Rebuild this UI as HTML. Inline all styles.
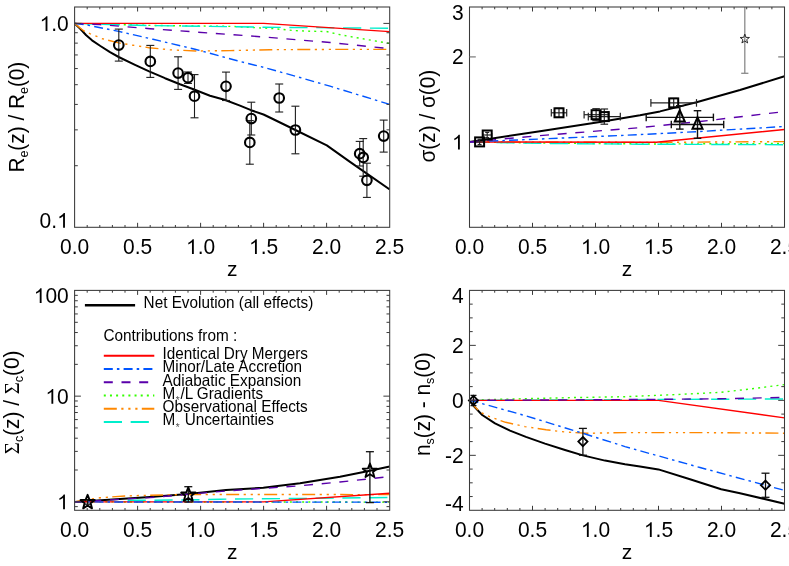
<!DOCTYPE html>
<html><head><meta charset="utf-8"><title>chart</title>
<style>html,body{margin:0;padding:0;background:#fff;overflow:hidden}svg{display:block;position:absolute;left:0;top:0;will-change:transform}</style></head>
<body>
<svg width="789" height="566" viewBox="0 0 789 566">
<rect width="100%" height="100%" fill="#fff"/>
<defs>
<clipPath id="c1"><rect x="74.60" y="7.00" width="315.10" height="220.30"/></clipPath>
<clipPath id="c2"><rect x="469.50" y="7.00" width="315.00" height="220.30"/></clipPath>
<clipPath id="c3"><rect x="74.60" y="290.40" width="315.10" height="219.90"/></clipPath>
<clipPath id="c4"><rect x="469.50" y="290.40" width="315.00" height="219.90"/></clipPath>
</defs>
<path d="M74.6 23.4 L80.0 28.6 L86.2 35.3 L92.0 40.3 L100.4 46.0 L110.0 52.2 L118.7 57.0 L135.0 64.8 L149.1 71.3 L165.0 78.2 L180.0 84.3 L194.1 89.5 L210.0 95.7 L224.5 99.8 L240.0 105.6 L251.0 110.2 L263.5 114.5 L270.8 118.0 L295.4 130.0 L326.8 145.4 L350.0 161.9 L389.7 189.4" fill="none" stroke="#000" stroke-width="2.00" clip-path="url(#c1)" stroke-linejoin="round"/>
<path d="M74.6 23.4 L150.0 25.4 L231.4 26.4 L256.1 27.7 L268.8 28.3 L280.8 29.3 L293.5 30.5 L306.2 31.1 L318.9 31.4 L326.5 31.5 L336.5 33.9 L342.7 35.2 L354.9 37.4 L389.7 43.5" fill="none" stroke="#33ff00" stroke-width="1.40" stroke-dasharray="2 4.15" clip-path="url(#c1)" stroke-linejoin="round"/>
<path d="M74.6 23.4 L80.0 28.0 L84.0 31.0 L90.3 33.8 L102.5 38.8 L118.7 42.9 L132.9 45.2 L149.1 47.7 L170.0 49.8 L195.6 51.0 L230.0 50.6 L270.0 49.7 L330.0 49.4 L389.7 49.4" fill="none" stroke="#ff8800" stroke-width="1.40" stroke-dasharray="13 4.5 2.2 4.8 2.2 4.8 2.2 4.3" clip-path="url(#c1)" stroke-linejoin="round"/>
<path d="M74.6 23.4 L100.0 24.2 L150.0 25.6 L226.0 26.6 L264.0 27.2 L330.0 27.8 L389.7 28.3" fill="none" stroke="#00eecc" stroke-width="1.40" stroke-dasharray="18.2 8.65" clip-path="url(#c1)" stroke-linejoin="round"/>
<path d="M74.6 23.4 L263.7 23.4 L389.7 31.6" fill="none" stroke="#ff0000" stroke-width="1.40" clip-path="url(#c1)" stroke-linejoin="round"/>
<path d="M74.6 23.4 L88.3 25.3 L118.7 31.4 L153.0 39.3 L195.0 49.2 L237.4 60.8 L263.5 67.3 L300.0 77.5 L330.0 86.2 L360.0 95.3 L389.7 104.4" fill="none" stroke="#0055ff" stroke-width="1.40" stroke-dasharray="9 4.1 2.5 4.2" clip-path="url(#c1)" stroke-linejoin="round"/>
<path d="M74.6 23.4 L100.0 24.6 L150.0 28.7 L226.0 34.2 L264.0 37.0 L330.0 42.5 L389.7 48.7" fill="none" stroke="#5a00aa" stroke-width="1.40" stroke-dasharray="9 8.7" clip-path="url(#c1)" stroke-linejoin="round"/>
<line x1="118.80" y1="29.10" x2="118.80" y2="61.10" stroke="#1c1c1c" stroke-width="1.10"/>
<line x1="114.80" y1="29.10" x2="122.80" y2="29.10" stroke="#1c1c1c" stroke-width="1.10"/>
<line x1="114.80" y1="61.10" x2="122.80" y2="61.10" stroke="#1c1c1c" stroke-width="1.10"/>
<line x1="150.30" y1="45.40" x2="150.30" y2="77.40" stroke="#1c1c1c" stroke-width="1.10"/>
<line x1="146.30" y1="45.40" x2="154.30" y2="45.40" stroke="#1c1c1c" stroke-width="1.10"/>
<line x1="146.30" y1="77.40" x2="154.30" y2="77.40" stroke="#1c1c1c" stroke-width="1.10"/>
<line x1="178.10" y1="56.80" x2="178.10" y2="89.40" stroke="#1c1c1c" stroke-width="1.10"/>
<line x1="174.10" y1="56.80" x2="182.10" y2="56.80" stroke="#1c1c1c" stroke-width="1.10"/>
<line x1="174.10" y1="89.40" x2="182.10" y2="89.40" stroke="#1c1c1c" stroke-width="1.10"/>
<line x1="188.00" y1="72.00" x2="188.00" y2="83.40" stroke="#1c1c1c" stroke-width="1.10"/>
<line x1="184.00" y1="72.00" x2="192.00" y2="72.00" stroke="#1c1c1c" stroke-width="1.10"/>
<line x1="184.00" y1="83.40" x2="192.00" y2="83.40" stroke="#1c1c1c" stroke-width="1.10"/>
<line x1="194.50" y1="74.60" x2="194.50" y2="117.80" stroke="#1c1c1c" stroke-width="1.10"/>
<line x1="190.50" y1="74.60" x2="198.50" y2="74.60" stroke="#1c1c1c" stroke-width="1.10"/>
<line x1="190.50" y1="117.80" x2="198.50" y2="117.80" stroke="#1c1c1c" stroke-width="1.10"/>
<line x1="226.00" y1="72.10" x2="226.00" y2="100.50" stroke="#1c1c1c" stroke-width="1.10"/>
<line x1="222.00" y1="72.10" x2="230.00" y2="72.10" stroke="#1c1c1c" stroke-width="1.10"/>
<line x1="222.00" y1="100.50" x2="230.00" y2="100.50" stroke="#1c1c1c" stroke-width="1.10"/>
<line x1="251.30" y1="102.20" x2="251.30" y2="135.00" stroke="#1c1c1c" stroke-width="1.10"/>
<line x1="247.30" y1="102.20" x2="255.30" y2="102.20" stroke="#1c1c1c" stroke-width="1.10"/>
<line x1="247.30" y1="135.00" x2="255.30" y2="135.00" stroke="#1c1c1c" stroke-width="1.10"/>
<line x1="249.80" y1="120.60" x2="249.80" y2="164.20" stroke="#1c1c1c" stroke-width="1.10"/>
<line x1="245.80" y1="120.60" x2="253.80" y2="120.60" stroke="#1c1c1c" stroke-width="1.10"/>
<line x1="245.80" y1="164.20" x2="253.80" y2="164.20" stroke="#1c1c1c" stroke-width="1.10"/>
<line x1="279.20" y1="84.00" x2="279.20" y2="112.00" stroke="#1c1c1c" stroke-width="1.10"/>
<line x1="275.20" y1="84.00" x2="283.20" y2="84.00" stroke="#1c1c1c" stroke-width="1.10"/>
<line x1="275.20" y1="112.00" x2="283.20" y2="112.00" stroke="#1c1c1c" stroke-width="1.10"/>
<line x1="295.40" y1="106.20" x2="295.40" y2="153.80" stroke="#1c1c1c" stroke-width="1.10"/>
<line x1="291.40" y1="106.20" x2="299.40" y2="106.20" stroke="#1c1c1c" stroke-width="1.10"/>
<line x1="291.40" y1="153.80" x2="299.40" y2="153.80" stroke="#1c1c1c" stroke-width="1.10"/>
<line x1="359.70" y1="141.40" x2="359.70" y2="166.00" stroke="#1c1c1c" stroke-width="1.10"/>
<line x1="355.70" y1="141.40" x2="363.70" y2="141.40" stroke="#1c1c1c" stroke-width="1.10"/>
<line x1="355.70" y1="166.00" x2="363.70" y2="166.00" stroke="#1c1c1c" stroke-width="1.10"/>
<line x1="363.20" y1="138.60" x2="363.20" y2="176.20" stroke="#1c1c1c" stroke-width="1.10"/>
<line x1="359.20" y1="138.60" x2="367.20" y2="138.60" stroke="#1c1c1c" stroke-width="1.10"/>
<line x1="359.20" y1="176.20" x2="367.20" y2="176.20" stroke="#1c1c1c" stroke-width="1.10"/>
<line x1="366.90" y1="163.20" x2="366.90" y2="197.40" stroke="#1c1c1c" stroke-width="1.10"/>
<line x1="362.90" y1="163.20" x2="370.90" y2="163.20" stroke="#1c1c1c" stroke-width="1.10"/>
<line x1="362.90" y1="197.40" x2="370.90" y2="197.40" stroke="#1c1c1c" stroke-width="1.10"/>
<line x1="383.70" y1="120.10" x2="383.70" y2="152.10" stroke="#1c1c1c" stroke-width="1.10"/>
<line x1="379.70" y1="120.10" x2="387.70" y2="120.10" stroke="#1c1c1c" stroke-width="1.10"/>
<line x1="379.70" y1="152.10" x2="387.70" y2="152.10" stroke="#1c1c1c" stroke-width="1.10"/>
<circle cx="118.8" cy="45.1" r="4.8" fill="none" stroke="#000" stroke-width="2.1"/>
<circle cx="150.3" cy="61.4" r="4.8" fill="none" stroke="#000" stroke-width="2.1"/>
<circle cx="178.1" cy="73.1" r="4.8" fill="none" stroke="#000" stroke-width="2.1"/>
<circle cx="188.0" cy="77.7" r="4.8" fill="none" stroke="#000" stroke-width="2.1"/>
<circle cx="194.5" cy="96.2" r="4.8" fill="none" stroke="#000" stroke-width="2.1"/>
<circle cx="226.0" cy="86.3" r="4.8" fill="none" stroke="#000" stroke-width="2.1"/>
<circle cx="251.3" cy="118.6" r="4.8" fill="none" stroke="#000" stroke-width="2.1"/>
<circle cx="249.8" cy="142.4" r="4.8" fill="none" stroke="#000" stroke-width="2.1"/>
<circle cx="279.2" cy="98.0" r="4.8" fill="none" stroke="#000" stroke-width="2.1"/>
<circle cx="295.4" cy="130.0" r="4.8" fill="none" stroke="#000" stroke-width="2.1"/>
<circle cx="359.7" cy="153.7" r="4.8" fill="none" stroke="#000" stroke-width="2.1"/>
<circle cx="363.2" cy="157.4" r="4.8" fill="none" stroke="#000" stroke-width="2.1"/>
<circle cx="366.9" cy="180.3" r="4.8" fill="none" stroke="#000" stroke-width="2.1"/>
<circle cx="383.7" cy="136.1" r="4.8" fill="none" stroke="#000" stroke-width="2.1"/>
<rect x="74.60" y="7.00" width="315.10" height="220.30" fill="none" stroke="#3a3a3a" stroke-width="1.05"/>
<line x1="137.60" y1="227.30" x2="137.60" y2="222.80" stroke="#3a3a3a" stroke-width="1.00"/>
<line x1="137.60" y1="7.00" x2="137.60" y2="11.50" stroke="#3a3a3a" stroke-width="1.00"/>
<line x1="200.60" y1="227.30" x2="200.60" y2="222.80" stroke="#3a3a3a" stroke-width="1.00"/>
<line x1="200.60" y1="7.00" x2="200.60" y2="11.50" stroke="#3a3a3a" stroke-width="1.00"/>
<line x1="263.60" y1="227.30" x2="263.60" y2="222.80" stroke="#3a3a3a" stroke-width="1.00"/>
<line x1="263.60" y1="7.00" x2="263.60" y2="11.50" stroke="#3a3a3a" stroke-width="1.00"/>
<line x1="326.60" y1="227.30" x2="326.60" y2="222.80" stroke="#3a3a3a" stroke-width="1.00"/>
<line x1="326.60" y1="7.00" x2="326.60" y2="11.50" stroke="#3a3a3a" stroke-width="1.00"/>
<line x1="87.20" y1="227.30" x2="87.20" y2="225.00" stroke="#3a3a3a" stroke-width="1.00"/>
<line x1="87.20" y1="7.00" x2="87.20" y2="9.30" stroke="#3a3a3a" stroke-width="1.00"/>
<line x1="99.80" y1="227.30" x2="99.80" y2="225.00" stroke="#3a3a3a" stroke-width="1.00"/>
<line x1="99.80" y1="7.00" x2="99.80" y2="9.30" stroke="#3a3a3a" stroke-width="1.00"/>
<line x1="112.40" y1="227.30" x2="112.40" y2="225.00" stroke="#3a3a3a" stroke-width="1.00"/>
<line x1="112.40" y1="7.00" x2="112.40" y2="9.30" stroke="#3a3a3a" stroke-width="1.00"/>
<line x1="125.00" y1="227.30" x2="125.00" y2="225.00" stroke="#3a3a3a" stroke-width="1.00"/>
<line x1="125.00" y1="7.00" x2="125.00" y2="9.30" stroke="#3a3a3a" stroke-width="1.00"/>
<line x1="150.20" y1="227.30" x2="150.20" y2="225.00" stroke="#3a3a3a" stroke-width="1.00"/>
<line x1="150.20" y1="7.00" x2="150.20" y2="9.30" stroke="#3a3a3a" stroke-width="1.00"/>
<line x1="162.80" y1="227.30" x2="162.80" y2="225.00" stroke="#3a3a3a" stroke-width="1.00"/>
<line x1="162.80" y1="7.00" x2="162.80" y2="9.30" stroke="#3a3a3a" stroke-width="1.00"/>
<line x1="175.40" y1="227.30" x2="175.40" y2="225.00" stroke="#3a3a3a" stroke-width="1.00"/>
<line x1="175.40" y1="7.00" x2="175.40" y2="9.30" stroke="#3a3a3a" stroke-width="1.00"/>
<line x1="188.00" y1="227.30" x2="188.00" y2="225.00" stroke="#3a3a3a" stroke-width="1.00"/>
<line x1="188.00" y1="7.00" x2="188.00" y2="9.30" stroke="#3a3a3a" stroke-width="1.00"/>
<line x1="213.20" y1="227.30" x2="213.20" y2="225.00" stroke="#3a3a3a" stroke-width="1.00"/>
<line x1="213.20" y1="7.00" x2="213.20" y2="9.30" stroke="#3a3a3a" stroke-width="1.00"/>
<line x1="225.80" y1="227.30" x2="225.80" y2="225.00" stroke="#3a3a3a" stroke-width="1.00"/>
<line x1="225.80" y1="7.00" x2="225.80" y2="9.30" stroke="#3a3a3a" stroke-width="1.00"/>
<line x1="238.40" y1="227.30" x2="238.40" y2="225.00" stroke="#3a3a3a" stroke-width="1.00"/>
<line x1="238.40" y1="7.00" x2="238.40" y2="9.30" stroke="#3a3a3a" stroke-width="1.00"/>
<line x1="251.00" y1="227.30" x2="251.00" y2="225.00" stroke="#3a3a3a" stroke-width="1.00"/>
<line x1="251.00" y1="7.00" x2="251.00" y2="9.30" stroke="#3a3a3a" stroke-width="1.00"/>
<line x1="276.20" y1="227.30" x2="276.20" y2="225.00" stroke="#3a3a3a" stroke-width="1.00"/>
<line x1="276.20" y1="7.00" x2="276.20" y2="9.30" stroke="#3a3a3a" stroke-width="1.00"/>
<line x1="288.80" y1="227.30" x2="288.80" y2="225.00" stroke="#3a3a3a" stroke-width="1.00"/>
<line x1="288.80" y1="7.00" x2="288.80" y2="9.30" stroke="#3a3a3a" stroke-width="1.00"/>
<line x1="301.40" y1="227.30" x2="301.40" y2="225.00" stroke="#3a3a3a" stroke-width="1.00"/>
<line x1="301.40" y1="7.00" x2="301.40" y2="9.30" stroke="#3a3a3a" stroke-width="1.00"/>
<line x1="314.00" y1="227.30" x2="314.00" y2="225.00" stroke="#3a3a3a" stroke-width="1.00"/>
<line x1="314.00" y1="7.00" x2="314.00" y2="9.30" stroke="#3a3a3a" stroke-width="1.00"/>
<line x1="339.20" y1="227.30" x2="339.20" y2="225.00" stroke="#3a3a3a" stroke-width="1.00"/>
<line x1="339.20" y1="7.00" x2="339.20" y2="9.30" stroke="#3a3a3a" stroke-width="1.00"/>
<line x1="351.80" y1="227.30" x2="351.80" y2="225.00" stroke="#3a3a3a" stroke-width="1.00"/>
<line x1="351.80" y1="7.00" x2="351.80" y2="9.30" stroke="#3a3a3a" stroke-width="1.00"/>
<line x1="364.40" y1="227.30" x2="364.40" y2="225.00" stroke="#3a3a3a" stroke-width="1.00"/>
<line x1="364.40" y1="7.00" x2="364.40" y2="9.30" stroke="#3a3a3a" stroke-width="1.00"/>
<line x1="377.00" y1="227.30" x2="377.00" y2="225.00" stroke="#3a3a3a" stroke-width="1.00"/>
<line x1="377.00" y1="7.00" x2="377.00" y2="9.30" stroke="#3a3a3a" stroke-width="1.00"/>
<line x1="74.60" y1="23.40" x2="80.90" y2="23.40" stroke="#3a3a3a" stroke-width="1.00"/>
<line x1="389.70" y1="23.40" x2="383.40" y2="23.40" stroke="#3a3a3a" stroke-width="1.00"/>
<line x1="74.60" y1="165.71" x2="77.80" y2="165.71" stroke="#3a3a3a" stroke-width="1.00"/>
<line x1="389.70" y1="165.71" x2="386.50" y2="165.71" stroke="#3a3a3a" stroke-width="1.00"/>
<line x1="74.60" y1="129.86" x2="77.80" y2="129.86" stroke="#3a3a3a" stroke-width="1.00"/>
<line x1="389.70" y1="129.86" x2="386.50" y2="129.86" stroke="#3a3a3a" stroke-width="1.00"/>
<line x1="74.60" y1="104.42" x2="77.80" y2="104.42" stroke="#3a3a3a" stroke-width="1.00"/>
<line x1="389.70" y1="104.42" x2="386.50" y2="104.42" stroke="#3a3a3a" stroke-width="1.00"/>
<line x1="74.60" y1="84.69" x2="77.80" y2="84.69" stroke="#3a3a3a" stroke-width="1.00"/>
<line x1="389.70" y1="84.69" x2="386.50" y2="84.69" stroke="#3a3a3a" stroke-width="1.00"/>
<line x1="74.60" y1="68.57" x2="77.80" y2="68.57" stroke="#3a3a3a" stroke-width="1.00"/>
<line x1="389.70" y1="68.57" x2="386.50" y2="68.57" stroke="#3a3a3a" stroke-width="1.00"/>
<line x1="74.60" y1="54.94" x2="77.80" y2="54.94" stroke="#3a3a3a" stroke-width="1.00"/>
<line x1="389.70" y1="54.94" x2="386.50" y2="54.94" stroke="#3a3a3a" stroke-width="1.00"/>
<line x1="74.60" y1="43.13" x2="77.80" y2="43.13" stroke="#3a3a3a" stroke-width="1.00"/>
<line x1="389.70" y1="43.13" x2="386.50" y2="43.13" stroke="#3a3a3a" stroke-width="1.00"/>
<line x1="74.60" y1="32.72" x2="77.80" y2="32.72" stroke="#3a3a3a" stroke-width="1.00"/>
<line x1="389.70" y1="32.72" x2="386.50" y2="32.72" stroke="#3a3a3a" stroke-width="1.00"/>
<text transform="translate(74.60,253.90) scale(1,1.090)" font-size="21.00" text-anchor="middle" font-family="Liberation Sans, sans-serif" >0.0</text>
<text transform="translate(137.60,253.90) scale(1,1.090)" font-size="21.00" text-anchor="middle" font-family="Liberation Sans, sans-serif" >0.5</text>
<path d="M763 0H583V1147Q518 1085 412.5 1023T223 930V1104Q373 1175 485.5 1275.5T644 1466H763Z" transform="translate(186.00,253.90) scale(0.01025,-0.01006)" fill="#000"/>
<text transform="translate(197.68,253.90) scale(1,1.090)" font-size="21.00" text-anchor="start" font-family="Liberation Sans, sans-serif">.</text>
<text transform="translate(203.52,253.90) scale(1,1.090)" font-size="21.00" text-anchor="start" font-family="Liberation Sans, sans-serif">0</text>
<path d="M763 0H583V1147Q518 1085 412.5 1023T223 930V1104Q373 1175 485.5 1275.5T644 1466H763Z" transform="translate(249.00,253.90) scale(0.01025,-0.01006)" fill="#000"/>
<text transform="translate(260.68,253.90) scale(1,1.090)" font-size="21.00" text-anchor="start" font-family="Liberation Sans, sans-serif">.</text>
<text transform="translate(266.52,253.90) scale(1,1.090)" font-size="21.00" text-anchor="start" font-family="Liberation Sans, sans-serif">5</text>
<text transform="translate(326.60,253.90) scale(1,1.090)" font-size="21.00" text-anchor="middle" font-family="Liberation Sans, sans-serif" >2.0</text>
<text transform="translate(389.60,253.90) scale(1,1.090)" font-size="21.00" text-anchor="middle" font-family="Liberation Sans, sans-serif" >2.5</text>
<text transform="translate(232.15,275.80) scale(1,1.000)" font-size="21.00" text-anchor="middle" font-family="Liberation Sans, sans-serif" >z</text>
<path d="M763 0H583V1147Q518 1085 412.5 1023T223 930V1104Q373 1175 485.5 1275.5T644 1466H763Z" transform="translate(39.61,30.90) scale(0.01025,-0.01006)" fill="#000"/>
<text transform="translate(51.29,30.90) scale(1,1.090)" font-size="21.00" text-anchor="start" font-family="Liberation Sans, sans-serif">.</text>
<text transform="translate(57.12,30.90) scale(1,1.090)" font-size="21.00" text-anchor="start" font-family="Liberation Sans, sans-serif">0</text>
<text transform="translate(39.61,227.70) scale(1,1.090)" font-size="21.00" text-anchor="start" font-family="Liberation Sans, sans-serif">0</text>
<text transform="translate(51.29,227.70) scale(1,1.090)" font-size="21.00" text-anchor="start" font-family="Liberation Sans, sans-serif">.</text>
<path d="M763 0H583V1147Q518 1085 412.5 1023T223 930V1104Q373 1175 485.5 1275.5T644 1466H763Z" transform="translate(57.12,227.70) scale(0.01025,-0.01006)" fill="#000"/>
<g transform="translate(24.00,117.15) rotate(-90) scale(1,1.05)"><text font-size="20.8" text-anchor="middle" font-family="Liberation Sans, sans-serif">R<tspan font-size="12.5" dy="4">e</tspan><tspan dy="-4">(z) / R</tspan><tspan font-size="12.5" dy="4">e</tspan><tspan dy="-4">(0)</tspan></text></g>
<path d="M469.5 142.0 L540.0 131.2 L600.0 122.0 L640.0 115.3 L660.0 111.4 L696.5 102.3 L740.0 90.0 L784.5 76.3" fill="none" stroke="#000" stroke-width="2.00" clip-path="url(#c2)" stroke-linejoin="round"/>
<path d="M469.5 142.0 L540.0 143.0 L656.0 144.0 L784.5 143.5" fill="none" stroke="#33ff00" stroke-width="1.40" stroke-dasharray="2 4.15" clip-path="url(#c2)" stroke-linejoin="round"/>
<path d="M469.5 142.0 L656.0 142.4 L784.5 141.6" fill="none" stroke="#ff8800" stroke-width="1.40" stroke-dasharray="13 4.5 2.2 4.8 2.2 4.8 2.2 4.3" clip-path="url(#c2)" stroke-linejoin="round"/>
<path d="M469.5 142.0 L540.0 143.4 L640.0 144.2 L784.5 144.7" fill="none" stroke="#00eecc" stroke-width="1.40" stroke-dasharray="18.2 8.65" clip-path="url(#c2)" stroke-linejoin="round"/>
<path d="M469.5 142.0 L656.2 142.2 L784.5 129.5" fill="none" stroke="#ff0000" stroke-width="1.40" clip-path="url(#c2)" stroke-linejoin="round"/>
<path d="M469.5 142.0 L545.0 138.8 L638.0 134.7 L700.0 131.5 L784.5 126.5" fill="none" stroke="#0055ff" stroke-width="1.40" stroke-dasharray="9 4.1 2.5 4.2" clip-path="url(#c2)" stroke-linejoin="round"/>
<path d="M469.5 142.0 L540.0 135.6 L638.0 127.8 L700.0 121.5 L784.5 111.6" fill="none" stroke="#5a00aa" stroke-width="1.40" stroke-dasharray="9 8.7" clip-path="url(#c2)" stroke-linejoin="round"/>
<line x1="744.80" y1="7.00" x2="744.80" y2="73.30" stroke="#8a8a8a" stroke-width="1.30"/>
<line x1="741.20" y1="73.30" x2="748.40" y2="73.30" stroke="#8a8a8a" stroke-width="1.30"/>
<polygon points="744.80,34.10 745.98,37.38 749.46,37.49 746.70,39.62 747.68,42.96 744.80,41.00 741.92,42.96 742.90,39.62 740.14,37.49 743.62,37.38" fill="none" stroke="#222" stroke-width="0.95" stroke-linejoin="round"/>
<line x1="475.10" y1="141.90" x2="484.10" y2="141.90" stroke="#222" stroke-width="1.20"/>
<line x1="475.10" y1="139.90" x2="475.10" y2="143.90" stroke="#222" stroke-width="1.20"/>
<line x1="484.10" y1="139.90" x2="484.10" y2="143.90" stroke="#222" stroke-width="1.20"/>
<line x1="479.60" y1="139.30" x2="479.60" y2="144.50" stroke="#222" stroke-width="1.20"/>
<line x1="477.60" y1="139.30" x2="481.60" y2="139.30" stroke="#222" stroke-width="1.20"/>
<line x1="477.60" y1="144.50" x2="481.60" y2="144.50" stroke="#222" stroke-width="1.20"/>
<line x1="482.70" y1="135.00" x2="491.70" y2="135.00" stroke="#222" stroke-width="1.20"/>
<line x1="482.70" y1="133.00" x2="482.70" y2="137.00" stroke="#222" stroke-width="1.20"/>
<line x1="491.70" y1="133.00" x2="491.70" y2="137.00" stroke="#222" stroke-width="1.20"/>
<line x1="487.20" y1="132.40" x2="487.20" y2="137.60" stroke="#222" stroke-width="1.20"/>
<line x1="485.20" y1="132.40" x2="489.20" y2="132.40" stroke="#222" stroke-width="1.20"/>
<line x1="485.20" y1="137.60" x2="489.20" y2="137.60" stroke="#222" stroke-width="1.20"/>
<line x1="551.30" y1="112.80" x2="566.70" y2="112.80" stroke="#222" stroke-width="1.20"/>
<line x1="551.30" y1="109.00" x2="551.30" y2="116.60" stroke="#222" stroke-width="1.20"/>
<line x1="566.70" y1="109.00" x2="566.70" y2="116.60" stroke="#222" stroke-width="1.20"/>
<line x1="559.00" y1="108.30" x2="559.00" y2="117.30" stroke="#222" stroke-width="1.20"/>
<line x1="555.20" y1="108.30" x2="562.80" y2="108.30" stroke="#222" stroke-width="1.20"/>
<line x1="555.20" y1="117.30" x2="562.80" y2="117.30" stroke="#222" stroke-width="1.20"/>
<line x1="584.10" y1="114.70" x2="608.10" y2="114.70" stroke="#222" stroke-width="1.20"/>
<line x1="584.10" y1="110.90" x2="584.10" y2="118.50" stroke="#222" stroke-width="1.20"/>
<line x1="608.10" y1="110.90" x2="608.10" y2="118.50" stroke="#222" stroke-width="1.20"/>
<line x1="596.10" y1="108.70" x2="596.10" y2="120.70" stroke="#222" stroke-width="1.20"/>
<line x1="592.30" y1="108.70" x2="599.90" y2="108.70" stroke="#222" stroke-width="1.20"/>
<line x1="592.30" y1="120.70" x2="599.90" y2="120.70" stroke="#222" stroke-width="1.20"/>
<line x1="588.30" y1="116.60" x2="620.30" y2="116.60" stroke="#222" stroke-width="1.20"/>
<line x1="588.30" y1="112.80" x2="588.30" y2="120.40" stroke="#222" stroke-width="1.20"/>
<line x1="620.30" y1="112.80" x2="620.30" y2="120.40" stroke="#222" stroke-width="1.20"/>
<line x1="604.30" y1="109.00" x2="604.30" y2="124.20" stroke="#222" stroke-width="1.20"/>
<line x1="600.50" y1="109.00" x2="608.10" y2="109.00" stroke="#222" stroke-width="1.20"/>
<line x1="600.50" y1="124.20" x2="608.10" y2="124.20" stroke="#222" stroke-width="1.20"/>
<line x1="650.90" y1="102.90" x2="696.50" y2="102.90" stroke="#222" stroke-width="1.20"/>
<line x1="650.90" y1="99.10" x2="650.90" y2="106.70" stroke="#222" stroke-width="1.20"/>
<line x1="696.50" y1="99.10" x2="696.50" y2="106.70" stroke="#222" stroke-width="1.20"/>
<line x1="673.70" y1="98.40" x2="673.70" y2="107.40" stroke="#222" stroke-width="1.20"/>
<line x1="669.90" y1="98.40" x2="677.50" y2="98.40" stroke="#222" stroke-width="1.20"/>
<line x1="669.90" y1="107.40" x2="677.50" y2="107.40" stroke="#222" stroke-width="1.20"/>
<rect x="475.1" y="137.4" width="9" height="9" fill="none" stroke="#000" stroke-width="2"/>
<rect x="482.7" y="130.5" width="9" height="9" fill="none" stroke="#000" stroke-width="2"/>
<rect x="554.5" y="108.3" width="9" height="9" fill="none" stroke="#000" stroke-width="2"/>
<rect x="591.6" y="110.2" width="9" height="9" fill="none" stroke="#000" stroke-width="2"/>
<rect x="599.8" y="112.1" width="9" height="9" fill="none" stroke="#000" stroke-width="2"/>
<rect x="669.2" y="98.4" width="9" height="9" fill="none" stroke="#000" stroke-width="2"/>
<line x1="646.20" y1="117.40" x2="713.40" y2="117.40" stroke="#111" stroke-width="1.40"/>
<line x1="646.20" y1="113.60" x2="646.20" y2="121.20" stroke="#111" stroke-width="1.40"/>
<line x1="713.40" y1="113.60" x2="713.40" y2="121.20" stroke="#111" stroke-width="1.40"/>
<line x1="679.80" y1="105.70" x2="679.80" y2="129.10" stroke="#111" stroke-width="1.40"/>
<line x1="676.00" y1="105.70" x2="683.60" y2="105.70" stroke="#111" stroke-width="1.40"/>
<line x1="676.00" y1="129.10" x2="683.60" y2="129.10" stroke="#111" stroke-width="1.40"/>
<line x1="671.30" y1="124.50" x2="723.70" y2="124.50" stroke="#111" stroke-width="1.40"/>
<line x1="671.30" y1="120.70" x2="671.30" y2="128.30" stroke="#111" stroke-width="1.40"/>
<line x1="723.70" y1="120.70" x2="723.70" y2="128.30" stroke="#111" stroke-width="1.40"/>
<line x1="697.50" y1="110.70" x2="697.50" y2="138.30" stroke="#111" stroke-width="1.40"/>
<line x1="693.70" y1="110.70" x2="701.30" y2="110.70" stroke="#111" stroke-width="1.40"/>
<line x1="693.70" y1="138.30" x2="701.30" y2="138.30" stroke="#111" stroke-width="1.40"/>
<polygon points="679.8,110.2 674.8,121.6 684.8,121.6" fill="none" stroke="#000" stroke-width="2"/>
<polygon points="697.5,117.3 692.5,128.7 702.5,128.7" fill="none" stroke="#000" stroke-width="2"/>
<rect x="469.50" y="7.00" width="315.00" height="220.30" fill="none" stroke="#3a3a3a" stroke-width="1.05"/>
<line x1="532.50" y1="227.30" x2="532.50" y2="222.80" stroke="#3a3a3a" stroke-width="1.00"/>
<line x1="532.50" y1="7.00" x2="532.50" y2="11.50" stroke="#3a3a3a" stroke-width="1.00"/>
<line x1="595.50" y1="227.30" x2="595.50" y2="222.80" stroke="#3a3a3a" stroke-width="1.00"/>
<line x1="595.50" y1="7.00" x2="595.50" y2="11.50" stroke="#3a3a3a" stroke-width="1.00"/>
<line x1="658.50" y1="227.30" x2="658.50" y2="222.80" stroke="#3a3a3a" stroke-width="1.00"/>
<line x1="658.50" y1="7.00" x2="658.50" y2="11.50" stroke="#3a3a3a" stroke-width="1.00"/>
<line x1="721.50" y1="227.30" x2="721.50" y2="222.80" stroke="#3a3a3a" stroke-width="1.00"/>
<line x1="721.50" y1="7.00" x2="721.50" y2="11.50" stroke="#3a3a3a" stroke-width="1.00"/>
<line x1="482.10" y1="227.30" x2="482.10" y2="225.00" stroke="#3a3a3a" stroke-width="1.00"/>
<line x1="482.10" y1="7.00" x2="482.10" y2="9.30" stroke="#3a3a3a" stroke-width="1.00"/>
<line x1="494.70" y1="227.30" x2="494.70" y2="225.00" stroke="#3a3a3a" stroke-width="1.00"/>
<line x1="494.70" y1="7.00" x2="494.70" y2="9.30" stroke="#3a3a3a" stroke-width="1.00"/>
<line x1="507.30" y1="227.30" x2="507.30" y2="225.00" stroke="#3a3a3a" stroke-width="1.00"/>
<line x1="507.30" y1="7.00" x2="507.30" y2="9.30" stroke="#3a3a3a" stroke-width="1.00"/>
<line x1="519.90" y1="227.30" x2="519.90" y2="225.00" stroke="#3a3a3a" stroke-width="1.00"/>
<line x1="519.90" y1="7.00" x2="519.90" y2="9.30" stroke="#3a3a3a" stroke-width="1.00"/>
<line x1="545.10" y1="227.30" x2="545.10" y2="225.00" stroke="#3a3a3a" stroke-width="1.00"/>
<line x1="545.10" y1="7.00" x2="545.10" y2="9.30" stroke="#3a3a3a" stroke-width="1.00"/>
<line x1="557.70" y1="227.30" x2="557.70" y2="225.00" stroke="#3a3a3a" stroke-width="1.00"/>
<line x1="557.70" y1="7.00" x2="557.70" y2="9.30" stroke="#3a3a3a" stroke-width="1.00"/>
<line x1="570.30" y1="227.30" x2="570.30" y2="225.00" stroke="#3a3a3a" stroke-width="1.00"/>
<line x1="570.30" y1="7.00" x2="570.30" y2="9.30" stroke="#3a3a3a" stroke-width="1.00"/>
<line x1="582.90" y1="227.30" x2="582.90" y2="225.00" stroke="#3a3a3a" stroke-width="1.00"/>
<line x1="582.90" y1="7.00" x2="582.90" y2="9.30" stroke="#3a3a3a" stroke-width="1.00"/>
<line x1="608.10" y1="227.30" x2="608.10" y2="225.00" stroke="#3a3a3a" stroke-width="1.00"/>
<line x1="608.10" y1="7.00" x2="608.10" y2="9.30" stroke="#3a3a3a" stroke-width="1.00"/>
<line x1="620.70" y1="227.30" x2="620.70" y2="225.00" stroke="#3a3a3a" stroke-width="1.00"/>
<line x1="620.70" y1="7.00" x2="620.70" y2="9.30" stroke="#3a3a3a" stroke-width="1.00"/>
<line x1="633.30" y1="227.30" x2="633.30" y2="225.00" stroke="#3a3a3a" stroke-width="1.00"/>
<line x1="633.30" y1="7.00" x2="633.30" y2="9.30" stroke="#3a3a3a" stroke-width="1.00"/>
<line x1="645.90" y1="227.30" x2="645.90" y2="225.00" stroke="#3a3a3a" stroke-width="1.00"/>
<line x1="645.90" y1="7.00" x2="645.90" y2="9.30" stroke="#3a3a3a" stroke-width="1.00"/>
<line x1="671.10" y1="227.30" x2="671.10" y2="225.00" stroke="#3a3a3a" stroke-width="1.00"/>
<line x1="671.10" y1="7.00" x2="671.10" y2="9.30" stroke="#3a3a3a" stroke-width="1.00"/>
<line x1="683.70" y1="227.30" x2="683.70" y2="225.00" stroke="#3a3a3a" stroke-width="1.00"/>
<line x1="683.70" y1="7.00" x2="683.70" y2="9.30" stroke="#3a3a3a" stroke-width="1.00"/>
<line x1="696.30" y1="227.30" x2="696.30" y2="225.00" stroke="#3a3a3a" stroke-width="1.00"/>
<line x1="696.30" y1="7.00" x2="696.30" y2="9.30" stroke="#3a3a3a" stroke-width="1.00"/>
<line x1="708.90" y1="227.30" x2="708.90" y2="225.00" stroke="#3a3a3a" stroke-width="1.00"/>
<line x1="708.90" y1="7.00" x2="708.90" y2="9.30" stroke="#3a3a3a" stroke-width="1.00"/>
<line x1="734.10" y1="227.30" x2="734.10" y2="225.00" stroke="#3a3a3a" stroke-width="1.00"/>
<line x1="734.10" y1="7.00" x2="734.10" y2="9.30" stroke="#3a3a3a" stroke-width="1.00"/>
<line x1="746.70" y1="227.30" x2="746.70" y2="225.00" stroke="#3a3a3a" stroke-width="1.00"/>
<line x1="746.70" y1="7.00" x2="746.70" y2="9.30" stroke="#3a3a3a" stroke-width="1.00"/>
<line x1="759.30" y1="227.30" x2="759.30" y2="225.00" stroke="#3a3a3a" stroke-width="1.00"/>
<line x1="759.30" y1="7.00" x2="759.30" y2="9.30" stroke="#3a3a3a" stroke-width="1.00"/>
<line x1="771.90" y1="227.30" x2="771.90" y2="225.00" stroke="#3a3a3a" stroke-width="1.00"/>
<line x1="771.90" y1="7.00" x2="771.90" y2="9.30" stroke="#3a3a3a" stroke-width="1.00"/>
<line x1="469.50" y1="56.90" x2="475.80" y2="56.90" stroke="#777" stroke-width="1.20"/>
<line x1="784.50" y1="56.90" x2="778.20" y2="56.90" stroke="#777" stroke-width="1.20"/>
<text transform="translate(469.50,253.90) scale(1,1.090)" font-size="21.00" text-anchor="middle" font-family="Liberation Sans, sans-serif" >0.0</text>
<text transform="translate(532.50,253.90) scale(1,1.090)" font-size="21.00" text-anchor="middle" font-family="Liberation Sans, sans-serif" >0.5</text>
<path d="M763 0H583V1147Q518 1085 412.5 1023T223 930V1104Q373 1175 485.5 1275.5T644 1466H763Z" transform="translate(580.90,253.90) scale(0.01025,-0.01006)" fill="#000"/>
<text transform="translate(592.58,253.90) scale(1,1.090)" font-size="21.00" text-anchor="start" font-family="Liberation Sans, sans-serif">.</text>
<text transform="translate(598.42,253.90) scale(1,1.090)" font-size="21.00" text-anchor="start" font-family="Liberation Sans, sans-serif">0</text>
<path d="M763 0H583V1147Q518 1085 412.5 1023T223 930V1104Q373 1175 485.5 1275.5T644 1466H763Z" transform="translate(643.90,253.90) scale(0.01025,-0.01006)" fill="#000"/>
<text transform="translate(655.58,253.90) scale(1,1.090)" font-size="21.00" text-anchor="start" font-family="Liberation Sans, sans-serif">.</text>
<text transform="translate(661.42,253.90) scale(1,1.090)" font-size="21.00" text-anchor="start" font-family="Liberation Sans, sans-serif">5</text>
<text transform="translate(721.50,253.90) scale(1,1.090)" font-size="21.00" text-anchor="middle" font-family="Liberation Sans, sans-serif" >2.0</text>
<text transform="translate(784.50,253.90) scale(1,1.090)" font-size="21.00" text-anchor="middle" font-family="Liberation Sans, sans-serif" >2.5</text>
<text transform="translate(627.00,275.80) scale(1,1.000)" font-size="21.00" text-anchor="middle" font-family="Liberation Sans, sans-serif" >z</text>
<text transform="translate(463.70,19.90) scale(1,1.090)" font-size="21.00" text-anchor="end" font-family="Liberation Sans, sans-serif" >3</text>
<text transform="translate(463.70,64.40) scale(1,1.090)" font-size="21.00" text-anchor="end" font-family="Liberation Sans, sans-serif" >2</text>
<path d="M763 0H583V1147Q518 1085 412.5 1023T223 930V1104Q373 1175 485.5 1275.5T644 1466H763Z" transform="translate(452.02,149.50) scale(0.01025,-0.01006)" fill="#000"/>
<g transform="translate(434.70,116.15) rotate(-90) scale(1,1.05)"><text font-size="20.8" text-anchor="middle" font-family="Liberation Sans, sans-serif">σ(z) / σ(0)</text></g>
<path d="M74.6 501.9 L150.0 497.0 L188.0 494.0 L226.0 490.1 L263.3 487.7 L300.0 483.3 L340.0 476.8 L369.9 470.8 L389.7 466.4" fill="none" stroke="#000" stroke-width="2.00" clip-path="url(#c3)" stroke-linejoin="round"/>
<path d="M74.6 501.9 L389.7 502.1" fill="none" stroke="#33ff00" stroke-width="1.40" stroke-dasharray="2 4.15" clip-path="url(#c3)" stroke-linejoin="round"/>
<path d="M74.6 501.9 L85.0 499.8 L100.0 497.8 L125.0 496.0 L150.0 495.2 L188.0 494.6 L226.0 494.5 L389.7 494.6" fill="none" stroke="#ff8800" stroke-width="1.40" stroke-dasharray="13 4.5 2.2 4.8 2.2 4.8 2.2 4.3" clip-path="url(#c3)" stroke-linejoin="round"/>
<path d="M127.6 500.3 L150.0 500.3 L200.0 499.8 L220.0 499.2 L300.0 498.4 L389.7 497.5" fill="none" stroke="#00eecc" stroke-width="1.40" stroke-dasharray="18.2 8.65" clip-path="url(#c3)" stroke-linejoin="round"/>
<path d="M74.6 501.9 L263.5 501.9 L389.7 493.3" fill="none" stroke="#ff0000" stroke-width="1.40" clip-path="url(#c3)" stroke-linejoin="round"/>
<path d="M74.6 501.9 L389.7 502.2" fill="none" stroke="#0055ff" stroke-width="1.40" stroke-dasharray="9 4.1 2.5 4.2" clip-path="url(#c3)" stroke-linejoin="round"/>
<path d="M74.6 501.9 L150.0 497.6 L226.0 491.0 L263.3 488.4 L300.0 485.8 L340.0 482.0 L389.7 476.6" fill="none" stroke="#5a00aa" stroke-width="1.40" stroke-dasharray="9 8.7" clip-path="url(#c3)" stroke-linejoin="round"/>
<line x1="87.60" y1="499.60" x2="87.60" y2="504.20" stroke="#111" stroke-width="1.30"/>
<line x1="85.10" y1="499.60" x2="90.10" y2="499.60" stroke="#111" stroke-width="1.30"/>
<line x1="85.10" y1="504.20" x2="90.10" y2="504.20" stroke="#111" stroke-width="1.30"/>
<line x1="188.30" y1="486.70" x2="188.30" y2="502.00" stroke="#111" stroke-width="1.30"/>
<line x1="184.30" y1="486.70" x2="192.30" y2="486.70" stroke="#111" stroke-width="1.30"/>
<line x1="184.30" y1="502.00" x2="192.30" y2="502.00" stroke="#111" stroke-width="1.30"/>
<line x1="369.90" y1="451.70" x2="369.90" y2="502.60" stroke="#111" stroke-width="1.30"/>
<line x1="365.90" y1="451.70" x2="373.90" y2="451.70" stroke="#111" stroke-width="1.30"/>
<line x1="365.90" y1="502.60" x2="373.90" y2="502.60" stroke="#111" stroke-width="1.30"/>
<polygon points="87.60,494.80 89.48,499.71 94.73,499.98 90.64,503.29 92.01,508.37 87.60,505.50 83.19,508.37 84.56,503.29 80.47,499.98 85.72,499.71" fill="none" stroke="#000" stroke-width="1.90" stroke-linejoin="round"/>
<polygon points="188.30,487.30 190.18,492.21 195.43,492.48 191.34,495.79 192.71,500.87 188.30,498.00 183.89,500.87 185.26,495.79 181.17,492.48 186.42,492.21" fill="none" stroke="#000" stroke-width="1.90" stroke-linejoin="round"/>
<polygon points="369.90,463.50 371.78,468.41 377.03,468.68 372.94,471.99 374.31,477.07 369.90,474.20 365.49,477.07 366.86,471.99 362.77,468.68 368.02,468.41" fill="none" stroke="#000" stroke-width="1.90" stroke-linejoin="round"/>
<line x1="84.90" y1="305.30" x2="135.10" y2="305.30" stroke="#000" stroke-width="2.40"/>
<text transform="translate(143.60,308.20) scale(1,1.090)" font-size="15.30" text-anchor="start" font-family="Liberation Sans, sans-serif" >Net Evolution (all effects)</text>
<text transform="translate(103.40,341.40) scale(1,1.090)" font-size="15.35" text-anchor="start" font-family="Liberation Sans, sans-serif" >Contributions from :</text>
<path d="M103.8 355.8 L154.3 355.8" fill="none" stroke="#ff0000" stroke-width="1.90" />
<text transform="translate(162.60,359.20) scale(1,1.090)" font-size="15.30" text-anchor="start" font-family="Liberation Sans, sans-serif" >Identical Dry Mergers</text>
<path d="M103.8 369.0 L154.3 369.0" fill="none" stroke="#0055ff" stroke-width="1.90" stroke-dasharray="9 4.1 2.5 4.2" />
<text transform="translate(162.60,372.40) scale(1,1.090)" font-size="15.30" text-anchor="start" font-family="Liberation Sans, sans-serif" >Minor/Late Accretion</text>
<path d="M103.8 382.2 L154.3 382.2" fill="none" stroke="#5a00aa" stroke-width="1.90" stroke-dasharray="9 8.7" />
<text transform="translate(162.60,385.60) scale(1,1.090)" font-size="15.30" text-anchor="start" font-family="Liberation Sans, sans-serif" >Adiabatic Expansion</text>
<path d="M103.8 395.5 L154.3 395.5" fill="none" stroke="#33ff00" stroke-width="1.90" stroke-dasharray="2 4.15" />
<text transform="translate(162.60,398.90) scale(1,1.090)" font-size="15.30" text-anchor="start" font-family="Liberation Sans, sans-serif" >M<tspan font-size="10" dy="5" dx="0.3" fill="#555">*</tspan><tspan dy="-5" dx="0.9">/L Gradients</tspan></text>
<path d="M103.8 408.8 L154.3 408.8" fill="none" stroke="#ff8800" stroke-width="1.90" stroke-dasharray="13 4.5 2.2 4.8 2.2 4.8 2.2 4.3" />
<text transform="translate(162.60,412.20) scale(1,1.090)" font-size="15.30" text-anchor="start" font-family="Liberation Sans, sans-serif" >Observational Effects</text>
<path d="M103.8 422.0 L154.3 422.0" fill="none" stroke="#00eecc" stroke-width="1.90" stroke-dasharray="18.2 8.65" />
<text transform="translate(162.60,425.40) scale(1,1.090)" font-size="15.30" text-anchor="start" font-family="Liberation Sans, sans-serif" >M<tspan font-size="10" dy="5" dx="0.3" fill="#555">*</tspan><tspan dy="-5" dx="0.9"> Uncertainties</tspan></text>
<rect x="74.60" y="290.40" width="315.10" height="219.90" fill="none" stroke="#3a3a3a" stroke-width="1.05"/>
<line x1="137.60" y1="510.30" x2="137.60" y2="505.80" stroke="#3a3a3a" stroke-width="1.00"/>
<line x1="137.60" y1="290.40" x2="137.60" y2="294.90" stroke="#3a3a3a" stroke-width="1.00"/>
<line x1="200.60" y1="510.30" x2="200.60" y2="505.80" stroke="#3a3a3a" stroke-width="1.00"/>
<line x1="200.60" y1="290.40" x2="200.60" y2="294.90" stroke="#3a3a3a" stroke-width="1.00"/>
<line x1="263.60" y1="510.30" x2="263.60" y2="505.80" stroke="#3a3a3a" stroke-width="1.00"/>
<line x1="263.60" y1="290.40" x2="263.60" y2="294.90" stroke="#3a3a3a" stroke-width="1.00"/>
<line x1="326.60" y1="510.30" x2="326.60" y2="505.80" stroke="#3a3a3a" stroke-width="1.00"/>
<line x1="326.60" y1="290.40" x2="326.60" y2="294.90" stroke="#3a3a3a" stroke-width="1.00"/>
<line x1="87.20" y1="510.30" x2="87.20" y2="508.00" stroke="#3a3a3a" stroke-width="1.00"/>
<line x1="87.20" y1="290.40" x2="87.20" y2="292.70" stroke="#3a3a3a" stroke-width="1.00"/>
<line x1="99.80" y1="510.30" x2="99.80" y2="508.00" stroke="#3a3a3a" stroke-width="1.00"/>
<line x1="99.80" y1="290.40" x2="99.80" y2="292.70" stroke="#3a3a3a" stroke-width="1.00"/>
<line x1="112.40" y1="510.30" x2="112.40" y2="508.00" stroke="#3a3a3a" stroke-width="1.00"/>
<line x1="112.40" y1="290.40" x2="112.40" y2="292.70" stroke="#3a3a3a" stroke-width="1.00"/>
<line x1="125.00" y1="510.30" x2="125.00" y2="508.00" stroke="#3a3a3a" stroke-width="1.00"/>
<line x1="125.00" y1="290.40" x2="125.00" y2="292.70" stroke="#3a3a3a" stroke-width="1.00"/>
<line x1="150.20" y1="510.30" x2="150.20" y2="508.00" stroke="#3a3a3a" stroke-width="1.00"/>
<line x1="150.20" y1="290.40" x2="150.20" y2="292.70" stroke="#3a3a3a" stroke-width="1.00"/>
<line x1="162.80" y1="510.30" x2="162.80" y2="508.00" stroke="#3a3a3a" stroke-width="1.00"/>
<line x1="162.80" y1="290.40" x2="162.80" y2="292.70" stroke="#3a3a3a" stroke-width="1.00"/>
<line x1="175.40" y1="510.30" x2="175.40" y2="508.00" stroke="#3a3a3a" stroke-width="1.00"/>
<line x1="175.40" y1="290.40" x2="175.40" y2="292.70" stroke="#3a3a3a" stroke-width="1.00"/>
<line x1="188.00" y1="510.30" x2="188.00" y2="508.00" stroke="#3a3a3a" stroke-width="1.00"/>
<line x1="188.00" y1="290.40" x2="188.00" y2="292.70" stroke="#3a3a3a" stroke-width="1.00"/>
<line x1="213.20" y1="510.30" x2="213.20" y2="508.00" stroke="#3a3a3a" stroke-width="1.00"/>
<line x1="213.20" y1="290.40" x2="213.20" y2="292.70" stroke="#3a3a3a" stroke-width="1.00"/>
<line x1="225.80" y1="510.30" x2="225.80" y2="508.00" stroke="#3a3a3a" stroke-width="1.00"/>
<line x1="225.80" y1="290.40" x2="225.80" y2="292.70" stroke="#3a3a3a" stroke-width="1.00"/>
<line x1="238.40" y1="510.30" x2="238.40" y2="508.00" stroke="#3a3a3a" stroke-width="1.00"/>
<line x1="238.40" y1="290.40" x2="238.40" y2="292.70" stroke="#3a3a3a" stroke-width="1.00"/>
<line x1="251.00" y1="510.30" x2="251.00" y2="508.00" stroke="#3a3a3a" stroke-width="1.00"/>
<line x1="251.00" y1="290.40" x2="251.00" y2="292.70" stroke="#3a3a3a" stroke-width="1.00"/>
<line x1="276.20" y1="510.30" x2="276.20" y2="508.00" stroke="#3a3a3a" stroke-width="1.00"/>
<line x1="276.20" y1="290.40" x2="276.20" y2="292.70" stroke="#3a3a3a" stroke-width="1.00"/>
<line x1="288.80" y1="510.30" x2="288.80" y2="508.00" stroke="#3a3a3a" stroke-width="1.00"/>
<line x1="288.80" y1="290.40" x2="288.80" y2="292.70" stroke="#3a3a3a" stroke-width="1.00"/>
<line x1="301.40" y1="510.30" x2="301.40" y2="508.00" stroke="#3a3a3a" stroke-width="1.00"/>
<line x1="301.40" y1="290.40" x2="301.40" y2="292.70" stroke="#3a3a3a" stroke-width="1.00"/>
<line x1="314.00" y1="510.30" x2="314.00" y2="508.00" stroke="#3a3a3a" stroke-width="1.00"/>
<line x1="314.00" y1="290.40" x2="314.00" y2="292.70" stroke="#3a3a3a" stroke-width="1.00"/>
<line x1="339.20" y1="510.30" x2="339.20" y2="508.00" stroke="#3a3a3a" stroke-width="1.00"/>
<line x1="339.20" y1="290.40" x2="339.20" y2="292.70" stroke="#3a3a3a" stroke-width="1.00"/>
<line x1="351.80" y1="510.30" x2="351.80" y2="508.00" stroke="#3a3a3a" stroke-width="1.00"/>
<line x1="351.80" y1="290.40" x2="351.80" y2="292.70" stroke="#3a3a3a" stroke-width="1.00"/>
<line x1="364.40" y1="510.30" x2="364.40" y2="508.00" stroke="#3a3a3a" stroke-width="1.00"/>
<line x1="364.40" y1="290.40" x2="364.40" y2="292.70" stroke="#3a3a3a" stroke-width="1.00"/>
<line x1="377.00" y1="510.30" x2="377.00" y2="508.00" stroke="#3a3a3a" stroke-width="1.00"/>
<line x1="377.00" y1="290.40" x2="377.00" y2="292.70" stroke="#3a3a3a" stroke-width="1.00"/>
<line x1="74.60" y1="501.80" x2="80.90" y2="501.80" stroke="#3a3a3a" stroke-width="1.00"/>
<line x1="389.70" y1="501.80" x2="383.40" y2="501.80" stroke="#3a3a3a" stroke-width="1.00"/>
<line x1="74.60" y1="396.15" x2="80.90" y2="396.15" stroke="#3a3a3a" stroke-width="1.00"/>
<line x1="389.70" y1="396.15" x2="383.40" y2="396.15" stroke="#3a3a3a" stroke-width="1.00"/>
<line x1="74.60" y1="506.63" x2="77.80" y2="506.63" stroke="#3a3a3a" stroke-width="1.00"/>
<line x1="389.70" y1="506.63" x2="386.50" y2="506.63" stroke="#3a3a3a" stroke-width="1.00"/>
<line x1="74.60" y1="470.00" x2="77.80" y2="470.00" stroke="#3a3a3a" stroke-width="1.00"/>
<line x1="389.70" y1="470.00" x2="386.50" y2="470.00" stroke="#3a3a3a" stroke-width="1.00"/>
<line x1="74.60" y1="451.39" x2="77.80" y2="451.39" stroke="#3a3a3a" stroke-width="1.00"/>
<line x1="389.70" y1="451.39" x2="386.50" y2="451.39" stroke="#3a3a3a" stroke-width="1.00"/>
<line x1="74.60" y1="438.19" x2="77.80" y2="438.19" stroke="#3a3a3a" stroke-width="1.00"/>
<line x1="389.70" y1="438.19" x2="386.50" y2="438.19" stroke="#3a3a3a" stroke-width="1.00"/>
<line x1="74.60" y1="427.95" x2="77.80" y2="427.95" stroke="#3a3a3a" stroke-width="1.00"/>
<line x1="389.70" y1="427.95" x2="386.50" y2="427.95" stroke="#3a3a3a" stroke-width="1.00"/>
<line x1="74.60" y1="419.59" x2="77.80" y2="419.59" stroke="#3a3a3a" stroke-width="1.00"/>
<line x1="389.70" y1="419.59" x2="386.50" y2="419.59" stroke="#3a3a3a" stroke-width="1.00"/>
<line x1="74.60" y1="412.52" x2="77.80" y2="412.52" stroke="#3a3a3a" stroke-width="1.00"/>
<line x1="389.70" y1="412.52" x2="386.50" y2="412.52" stroke="#3a3a3a" stroke-width="1.00"/>
<line x1="74.60" y1="406.39" x2="77.80" y2="406.39" stroke="#3a3a3a" stroke-width="1.00"/>
<line x1="389.70" y1="406.39" x2="386.50" y2="406.39" stroke="#3a3a3a" stroke-width="1.00"/>
<line x1="74.60" y1="400.98" x2="77.80" y2="400.98" stroke="#3a3a3a" stroke-width="1.00"/>
<line x1="389.70" y1="400.98" x2="386.50" y2="400.98" stroke="#3a3a3a" stroke-width="1.00"/>
<line x1="74.60" y1="364.35" x2="77.80" y2="364.35" stroke="#3a3a3a" stroke-width="1.00"/>
<line x1="389.70" y1="364.35" x2="386.50" y2="364.35" stroke="#3a3a3a" stroke-width="1.00"/>
<line x1="74.60" y1="345.74" x2="77.80" y2="345.74" stroke="#3a3a3a" stroke-width="1.00"/>
<line x1="389.70" y1="345.74" x2="386.50" y2="345.74" stroke="#3a3a3a" stroke-width="1.00"/>
<line x1="74.60" y1="332.54" x2="77.80" y2="332.54" stroke="#3a3a3a" stroke-width="1.00"/>
<line x1="389.70" y1="332.54" x2="386.50" y2="332.54" stroke="#3a3a3a" stroke-width="1.00"/>
<line x1="74.60" y1="322.30" x2="77.80" y2="322.30" stroke="#3a3a3a" stroke-width="1.00"/>
<line x1="389.70" y1="322.30" x2="386.50" y2="322.30" stroke="#3a3a3a" stroke-width="1.00"/>
<line x1="74.60" y1="313.94" x2="77.80" y2="313.94" stroke="#3a3a3a" stroke-width="1.00"/>
<line x1="389.70" y1="313.94" x2="386.50" y2="313.94" stroke="#3a3a3a" stroke-width="1.00"/>
<line x1="74.60" y1="306.87" x2="77.80" y2="306.87" stroke="#3a3a3a" stroke-width="1.00"/>
<line x1="389.70" y1="306.87" x2="386.50" y2="306.87" stroke="#3a3a3a" stroke-width="1.00"/>
<line x1="74.60" y1="300.74" x2="77.80" y2="300.74" stroke="#3a3a3a" stroke-width="1.00"/>
<line x1="389.70" y1="300.74" x2="386.50" y2="300.74" stroke="#3a3a3a" stroke-width="1.00"/>
<line x1="74.60" y1="295.33" x2="77.80" y2="295.33" stroke="#3a3a3a" stroke-width="1.00"/>
<line x1="389.70" y1="295.33" x2="386.50" y2="295.33" stroke="#3a3a3a" stroke-width="1.00"/>
<text transform="translate(74.60,536.90) scale(1,1.090)" font-size="21.00" text-anchor="middle" font-family="Liberation Sans, sans-serif" >0.0</text>
<text transform="translate(137.60,536.90) scale(1,1.090)" font-size="21.00" text-anchor="middle" font-family="Liberation Sans, sans-serif" >0.5</text>
<path d="M763 0H583V1147Q518 1085 412.5 1023T223 930V1104Q373 1175 485.5 1275.5T644 1466H763Z" transform="translate(186.00,536.90) scale(0.01025,-0.01006)" fill="#000"/>
<text transform="translate(197.68,536.90) scale(1,1.090)" font-size="21.00" text-anchor="start" font-family="Liberation Sans, sans-serif">.</text>
<text transform="translate(203.52,536.90) scale(1,1.090)" font-size="21.00" text-anchor="start" font-family="Liberation Sans, sans-serif">0</text>
<path d="M763 0H583V1147Q518 1085 412.5 1023T223 930V1104Q373 1175 485.5 1275.5T644 1466H763Z" transform="translate(249.00,536.90) scale(0.01025,-0.01006)" fill="#000"/>
<text transform="translate(260.68,536.90) scale(1,1.090)" font-size="21.00" text-anchor="start" font-family="Liberation Sans, sans-serif">.</text>
<text transform="translate(266.52,536.90) scale(1,1.090)" font-size="21.00" text-anchor="start" font-family="Liberation Sans, sans-serif">5</text>
<text transform="translate(326.60,536.90) scale(1,1.090)" font-size="21.00" text-anchor="middle" font-family="Liberation Sans, sans-serif" >2.0</text>
<text transform="translate(389.60,536.90) scale(1,1.090)" font-size="21.00" text-anchor="middle" font-family="Liberation Sans, sans-serif" >2.5</text>
<text transform="translate(232.15,558.80) scale(1,1.000)" font-size="21.00" text-anchor="middle" font-family="Liberation Sans, sans-serif" >z</text>
<path d="M763 0H583V1147Q518 1085 412.5 1023T223 930V1104Q373 1175 485.5 1275.5T644 1466H763Z" transform="translate(33.76,303.10) scale(0.01025,-0.01006)" fill="#000"/>
<text transform="translate(45.44,303.10) scale(1,1.090)" font-size="21.00" text-anchor="start" font-family="Liberation Sans, sans-serif">0</text>
<text transform="translate(57.12,303.10) scale(1,1.090)" font-size="21.00" text-anchor="start" font-family="Liberation Sans, sans-serif">0</text>
<path d="M763 0H583V1147Q518 1085 412.5 1023T223 930V1104Q373 1175 485.5 1275.5T644 1466H763Z" transform="translate(45.44,403.65) scale(0.01025,-0.01006)" fill="#000"/>
<text transform="translate(57.12,403.65) scale(1,1.090)" font-size="21.00" text-anchor="start" font-family="Liberation Sans, sans-serif">0</text>
<path d="M763 0H583V1147Q518 1085 412.5 1023T223 930V1104Q373 1175 485.5 1275.5T644 1466H763Z" transform="translate(57.12,509.30) scale(0.01025,-0.01006)" fill="#000"/>
<g transform="translate(19.20,402.35) rotate(-90) scale(1,1.05)"><text font-size="20.8" text-anchor="middle" font-family="Liberation Sans, sans-serif"><tspan font-family="Liberation Serif, serif">Σ</tspan><tspan font-size="12.5" dy="4">c</tspan><tspan dy="-4">(z) / </tspan><tspan font-family="Liberation Serif, serif">Σ</tspan><tspan font-size="12.5" dy="4">c</tspan><tspan dy="-4">(0)</tspan></text></g>
<path d="M469.5 400.4 L474.0 406.4 L482.2 415.0 L495.0 423.4 L510.0 430.6 L525.9 436.9 L545.0 443.6 L565.0 450.0 L582.9 455.4 L605.0 460.6 L625.0 464.3 L640.0 466.4 L658.4 469.4 L690.0 479.2 L721.2 489.2 L740.0 493.2 L784.5 503.7" fill="none" stroke="#000" stroke-width="2.00" clip-path="url(#c4)" stroke-linejoin="round"/>
<path d="M469.5 400.4 L483.0 399.7 L532.0 398.5 L572.5 397.6 L625.0 396.7 L680.0 394.4 L721.0 392.3 L750.0 389.0 L784.5 384.6" fill="none" stroke="#33ff00" stroke-width="1.40" stroke-dasharray="2 4.15" clip-path="url(#c4)" stroke-linejoin="round"/>
<path d="M469.5 400.4 L474.0 406.0 L480.0 412.0 L490.0 416.8 L505.6 422.3 L525.0 426.6 L546.1 429.8 L565.0 432.0 L586.7 433.3 L625.0 432.6 L700.0 432.6 L784.5 433.2" fill="none" stroke="#ff8800" stroke-width="1.40" stroke-dasharray="13 4.5 2.2 4.8 2.2 4.8 2.2 4.3" clip-path="url(#c4)" stroke-linejoin="round"/>
<path d="M469.5 400.4 L625.0 399.6 L784.5 399.0" fill="none" stroke="#00eecc" stroke-width="1.40" stroke-dasharray="18.2 8.65" clip-path="url(#c4)" stroke-linejoin="round"/>
<path d="M469.5 400.4 L658.4 400.4 L784.5 417.9" fill="none" stroke="#ff0000" stroke-width="1.40" clip-path="url(#c4)" stroke-linejoin="round"/>
<path d="M469.5 400.4 L485.3 404.5 L525.0 415.6 L582.9 433.3 L625.0 446.6 L700.0 467.5 L784.5 490.4" fill="none" stroke="#0055ff" stroke-width="1.40" stroke-dasharray="9 4.1 2.5 4.2" clip-path="url(#c4)" stroke-linejoin="round"/>
<path d="M469.5 400.4 L625.0 399.6 L720.0 398.8 L784.5 397.4" fill="none" stroke="#5a00aa" stroke-width="1.40" stroke-dasharray="9 8.7" clip-path="url(#c4)" stroke-linejoin="round"/>
<line x1="473.50" y1="395.40" x2="473.50" y2="405.60" stroke="#111" stroke-width="1.30"/>
<line x1="470.50" y1="395.40" x2="476.50" y2="395.40" stroke="#111" stroke-width="1.30"/>
<line x1="470.50" y1="405.60" x2="476.50" y2="405.60" stroke="#111" stroke-width="1.30"/>
<line x1="582.90" y1="428.40" x2="582.90" y2="455.20" stroke="#111" stroke-width="1.30"/>
<line x1="578.90" y1="428.40" x2="586.90" y2="428.40" stroke="#111" stroke-width="1.30"/>
<line x1="578.90" y1="455.20" x2="586.90" y2="455.20" stroke="#111" stroke-width="1.30"/>
<line x1="765.50" y1="473.20" x2="765.50" y2="497.30" stroke="#111" stroke-width="1.30"/>
<line x1="761.50" y1="473.20" x2="769.50" y2="473.20" stroke="#111" stroke-width="1.30"/>
<line x1="761.50" y1="497.30" x2="769.50" y2="497.30" stroke="#111" stroke-width="1.30"/>
<polygon points="473.5,395.8 478.1,400.4 473.5,405.0 468.9,400.4" fill="none" stroke="#000" stroke-width="1.8"/>
<polygon points="582.9,437.0 587.5,441.6 582.9,446.2 578.3,441.6" fill="none" stroke="#000" stroke-width="1.8"/>
<polygon points="765.5,480.6 770.1,485.2 765.5,489.8 760.9,485.2" fill="none" stroke="#000" stroke-width="1.8"/>
<rect x="469.50" y="290.40" width="315.00" height="219.90" fill="none" stroke="#3a3a3a" stroke-width="1.05"/>
<line x1="532.50" y1="510.30" x2="532.50" y2="505.80" stroke="#3a3a3a" stroke-width="1.00"/>
<line x1="532.50" y1="290.40" x2="532.50" y2="294.90" stroke="#3a3a3a" stroke-width="1.00"/>
<line x1="595.50" y1="510.30" x2="595.50" y2="505.80" stroke="#3a3a3a" stroke-width="1.00"/>
<line x1="595.50" y1="290.40" x2="595.50" y2="294.90" stroke="#3a3a3a" stroke-width="1.00"/>
<line x1="658.50" y1="510.30" x2="658.50" y2="505.80" stroke="#3a3a3a" stroke-width="1.00"/>
<line x1="658.50" y1="290.40" x2="658.50" y2="294.90" stroke="#3a3a3a" stroke-width="1.00"/>
<line x1="721.50" y1="510.30" x2="721.50" y2="505.80" stroke="#3a3a3a" stroke-width="1.00"/>
<line x1="721.50" y1="290.40" x2="721.50" y2="294.90" stroke="#3a3a3a" stroke-width="1.00"/>
<line x1="482.10" y1="510.30" x2="482.10" y2="508.00" stroke="#3a3a3a" stroke-width="1.00"/>
<line x1="482.10" y1="290.40" x2="482.10" y2="292.70" stroke="#3a3a3a" stroke-width="1.00"/>
<line x1="494.70" y1="510.30" x2="494.70" y2="508.00" stroke="#3a3a3a" stroke-width="1.00"/>
<line x1="494.70" y1="290.40" x2="494.70" y2="292.70" stroke="#3a3a3a" stroke-width="1.00"/>
<line x1="507.30" y1="510.30" x2="507.30" y2="508.00" stroke="#3a3a3a" stroke-width="1.00"/>
<line x1="507.30" y1="290.40" x2="507.30" y2="292.70" stroke="#3a3a3a" stroke-width="1.00"/>
<line x1="519.90" y1="510.30" x2="519.90" y2="508.00" stroke="#3a3a3a" stroke-width="1.00"/>
<line x1="519.90" y1="290.40" x2="519.90" y2="292.70" stroke="#3a3a3a" stroke-width="1.00"/>
<line x1="545.10" y1="510.30" x2="545.10" y2="508.00" stroke="#3a3a3a" stroke-width="1.00"/>
<line x1="545.10" y1="290.40" x2="545.10" y2="292.70" stroke="#3a3a3a" stroke-width="1.00"/>
<line x1="557.70" y1="510.30" x2="557.70" y2="508.00" stroke="#3a3a3a" stroke-width="1.00"/>
<line x1="557.70" y1="290.40" x2="557.70" y2="292.70" stroke="#3a3a3a" stroke-width="1.00"/>
<line x1="570.30" y1="510.30" x2="570.30" y2="508.00" stroke="#3a3a3a" stroke-width="1.00"/>
<line x1="570.30" y1="290.40" x2="570.30" y2="292.70" stroke="#3a3a3a" stroke-width="1.00"/>
<line x1="582.90" y1="510.30" x2="582.90" y2="508.00" stroke="#3a3a3a" stroke-width="1.00"/>
<line x1="582.90" y1="290.40" x2="582.90" y2="292.70" stroke="#3a3a3a" stroke-width="1.00"/>
<line x1="608.10" y1="510.30" x2="608.10" y2="508.00" stroke="#3a3a3a" stroke-width="1.00"/>
<line x1="608.10" y1="290.40" x2="608.10" y2="292.70" stroke="#3a3a3a" stroke-width="1.00"/>
<line x1="620.70" y1="510.30" x2="620.70" y2="508.00" stroke="#3a3a3a" stroke-width="1.00"/>
<line x1="620.70" y1="290.40" x2="620.70" y2="292.70" stroke="#3a3a3a" stroke-width="1.00"/>
<line x1="633.30" y1="510.30" x2="633.30" y2="508.00" stroke="#3a3a3a" stroke-width="1.00"/>
<line x1="633.30" y1="290.40" x2="633.30" y2="292.70" stroke="#3a3a3a" stroke-width="1.00"/>
<line x1="645.90" y1="510.30" x2="645.90" y2="508.00" stroke="#3a3a3a" stroke-width="1.00"/>
<line x1="645.90" y1="290.40" x2="645.90" y2="292.70" stroke="#3a3a3a" stroke-width="1.00"/>
<line x1="671.10" y1="510.30" x2="671.10" y2="508.00" stroke="#3a3a3a" stroke-width="1.00"/>
<line x1="671.10" y1="290.40" x2="671.10" y2="292.70" stroke="#3a3a3a" stroke-width="1.00"/>
<line x1="683.70" y1="510.30" x2="683.70" y2="508.00" stroke="#3a3a3a" stroke-width="1.00"/>
<line x1="683.70" y1="290.40" x2="683.70" y2="292.70" stroke="#3a3a3a" stroke-width="1.00"/>
<line x1="696.30" y1="510.30" x2="696.30" y2="508.00" stroke="#3a3a3a" stroke-width="1.00"/>
<line x1="696.30" y1="290.40" x2="696.30" y2="292.70" stroke="#3a3a3a" stroke-width="1.00"/>
<line x1="708.90" y1="510.30" x2="708.90" y2="508.00" stroke="#3a3a3a" stroke-width="1.00"/>
<line x1="708.90" y1="290.40" x2="708.90" y2="292.70" stroke="#3a3a3a" stroke-width="1.00"/>
<line x1="734.10" y1="510.30" x2="734.10" y2="508.00" stroke="#3a3a3a" stroke-width="1.00"/>
<line x1="734.10" y1="290.40" x2="734.10" y2="292.70" stroke="#3a3a3a" stroke-width="1.00"/>
<line x1="746.70" y1="510.30" x2="746.70" y2="508.00" stroke="#3a3a3a" stroke-width="1.00"/>
<line x1="746.70" y1="290.40" x2="746.70" y2="292.70" stroke="#3a3a3a" stroke-width="1.00"/>
<line x1="759.30" y1="510.30" x2="759.30" y2="508.00" stroke="#3a3a3a" stroke-width="1.00"/>
<line x1="759.30" y1="290.40" x2="759.30" y2="292.70" stroke="#3a3a3a" stroke-width="1.00"/>
<line x1="771.90" y1="510.30" x2="771.90" y2="508.00" stroke="#3a3a3a" stroke-width="1.00"/>
<line x1="771.90" y1="290.40" x2="771.90" y2="292.70" stroke="#3a3a3a" stroke-width="1.00"/>
<line x1="469.50" y1="345.37" x2="475.80" y2="345.37" stroke="#3a3a3a" stroke-width="1.00"/>
<line x1="784.50" y1="345.37" x2="778.20" y2="345.37" stroke="#3a3a3a" stroke-width="1.00"/>
<line x1="469.50" y1="400.35" x2="475.80" y2="400.35" stroke="#3a3a3a" stroke-width="1.00"/>
<line x1="784.50" y1="400.35" x2="778.20" y2="400.35" stroke="#3a3a3a" stroke-width="1.00"/>
<line x1="469.50" y1="455.33" x2="475.80" y2="455.33" stroke="#3a3a3a" stroke-width="1.00"/>
<line x1="784.50" y1="455.33" x2="778.20" y2="455.33" stroke="#3a3a3a" stroke-width="1.00"/>
<line x1="469.50" y1="496.56" x2="472.70" y2="496.56" stroke="#3a3a3a" stroke-width="1.00"/>
<line x1="784.50" y1="496.56" x2="781.30" y2="496.56" stroke="#3a3a3a" stroke-width="1.00"/>
<line x1="469.50" y1="482.82" x2="472.70" y2="482.82" stroke="#3a3a3a" stroke-width="1.00"/>
<line x1="784.50" y1="482.82" x2="781.30" y2="482.82" stroke="#3a3a3a" stroke-width="1.00"/>
<line x1="469.50" y1="469.08" x2="472.70" y2="469.08" stroke="#3a3a3a" stroke-width="1.00"/>
<line x1="784.50" y1="469.08" x2="781.30" y2="469.08" stroke="#3a3a3a" stroke-width="1.00"/>
<line x1="469.50" y1="441.59" x2="472.70" y2="441.59" stroke="#3a3a3a" stroke-width="1.00"/>
<line x1="784.50" y1="441.59" x2="781.30" y2="441.59" stroke="#3a3a3a" stroke-width="1.00"/>
<line x1="469.50" y1="427.84" x2="472.70" y2="427.84" stroke="#3a3a3a" stroke-width="1.00"/>
<line x1="784.50" y1="427.84" x2="781.30" y2="427.84" stroke="#3a3a3a" stroke-width="1.00"/>
<line x1="469.50" y1="414.10" x2="472.70" y2="414.10" stroke="#3a3a3a" stroke-width="1.00"/>
<line x1="784.50" y1="414.10" x2="781.30" y2="414.10" stroke="#3a3a3a" stroke-width="1.00"/>
<line x1="469.50" y1="386.61" x2="472.70" y2="386.61" stroke="#3a3a3a" stroke-width="1.00"/>
<line x1="784.50" y1="386.61" x2="781.30" y2="386.61" stroke="#3a3a3a" stroke-width="1.00"/>
<line x1="469.50" y1="372.86" x2="472.70" y2="372.86" stroke="#3a3a3a" stroke-width="1.00"/>
<line x1="784.50" y1="372.86" x2="781.30" y2="372.86" stroke="#3a3a3a" stroke-width="1.00"/>
<line x1="469.50" y1="359.12" x2="472.70" y2="359.12" stroke="#3a3a3a" stroke-width="1.00"/>
<line x1="784.50" y1="359.12" x2="781.30" y2="359.12" stroke="#3a3a3a" stroke-width="1.00"/>
<line x1="469.50" y1="331.62" x2="472.70" y2="331.62" stroke="#3a3a3a" stroke-width="1.00"/>
<line x1="784.50" y1="331.62" x2="781.30" y2="331.62" stroke="#3a3a3a" stroke-width="1.00"/>
<line x1="469.50" y1="317.88" x2="472.70" y2="317.88" stroke="#3a3a3a" stroke-width="1.00"/>
<line x1="784.50" y1="317.88" x2="781.30" y2="317.88" stroke="#3a3a3a" stroke-width="1.00"/>
<line x1="469.50" y1="304.14" x2="472.70" y2="304.14" stroke="#3a3a3a" stroke-width="1.00"/>
<line x1="784.50" y1="304.14" x2="781.30" y2="304.14" stroke="#3a3a3a" stroke-width="1.00"/>
<text transform="translate(469.50,536.90) scale(1,1.090)" font-size="21.00" text-anchor="middle" font-family="Liberation Sans, sans-serif" >0.0</text>
<text transform="translate(532.50,536.90) scale(1,1.090)" font-size="21.00" text-anchor="middle" font-family="Liberation Sans, sans-serif" >0.5</text>
<path d="M763 0H583V1147Q518 1085 412.5 1023T223 930V1104Q373 1175 485.5 1275.5T644 1466H763Z" transform="translate(580.90,536.90) scale(0.01025,-0.01006)" fill="#000"/>
<text transform="translate(592.58,536.90) scale(1,1.090)" font-size="21.00" text-anchor="start" font-family="Liberation Sans, sans-serif">.</text>
<text transform="translate(598.42,536.90) scale(1,1.090)" font-size="21.00" text-anchor="start" font-family="Liberation Sans, sans-serif">0</text>
<path d="M763 0H583V1147Q518 1085 412.5 1023T223 930V1104Q373 1175 485.5 1275.5T644 1466H763Z" transform="translate(643.90,536.90) scale(0.01025,-0.01006)" fill="#000"/>
<text transform="translate(655.58,536.90) scale(1,1.090)" font-size="21.00" text-anchor="start" font-family="Liberation Sans, sans-serif">.</text>
<text transform="translate(661.42,536.90) scale(1,1.090)" font-size="21.00" text-anchor="start" font-family="Liberation Sans, sans-serif">5</text>
<text transform="translate(721.50,536.90) scale(1,1.090)" font-size="21.00" text-anchor="middle" font-family="Liberation Sans, sans-serif" >2.0</text>
<text transform="translate(784.50,536.90) scale(1,1.090)" font-size="21.00" text-anchor="middle" font-family="Liberation Sans, sans-serif" >2.5</text>
<text transform="translate(627.00,558.80) scale(1,1.000)" font-size="21.00" text-anchor="middle" font-family="Liberation Sans, sans-serif" >z</text>
<text transform="translate(463.70,303.30) scale(1,1.090)" font-size="21.00" text-anchor="end" font-family="Liberation Sans, sans-serif" >4</text>
<text transform="translate(463.70,352.87) scale(1,1.090)" font-size="21.00" text-anchor="end" font-family="Liberation Sans, sans-serif" >2</text>
<text transform="translate(463.70,407.85) scale(1,1.090)" font-size="21.00" text-anchor="end" font-family="Liberation Sans, sans-serif" >0</text>
<text transform="translate(463.70,462.83) scale(1,1.090)" font-size="21.00" text-anchor="end" font-family="Liberation Sans, sans-serif" >-2</text>
<text transform="translate(463.70,510.70) scale(1,1.090)" font-size="21.00" text-anchor="end" font-family="Liberation Sans, sans-serif" >-4</text>
<g transform="translate(429.70,404.15) rotate(-90) scale(1,1.05)"><text font-size="20.8" text-anchor="middle" font-family="Liberation Sans, sans-serif">n<tspan font-size="12.5" dy="4">s</tspan><tspan dy="-4">(z) - n</tspan><tspan font-size="12.5" dy="4">s</tspan><tspan dy="-4">(0)</tspan></text></g>
</svg>
</body></html>
